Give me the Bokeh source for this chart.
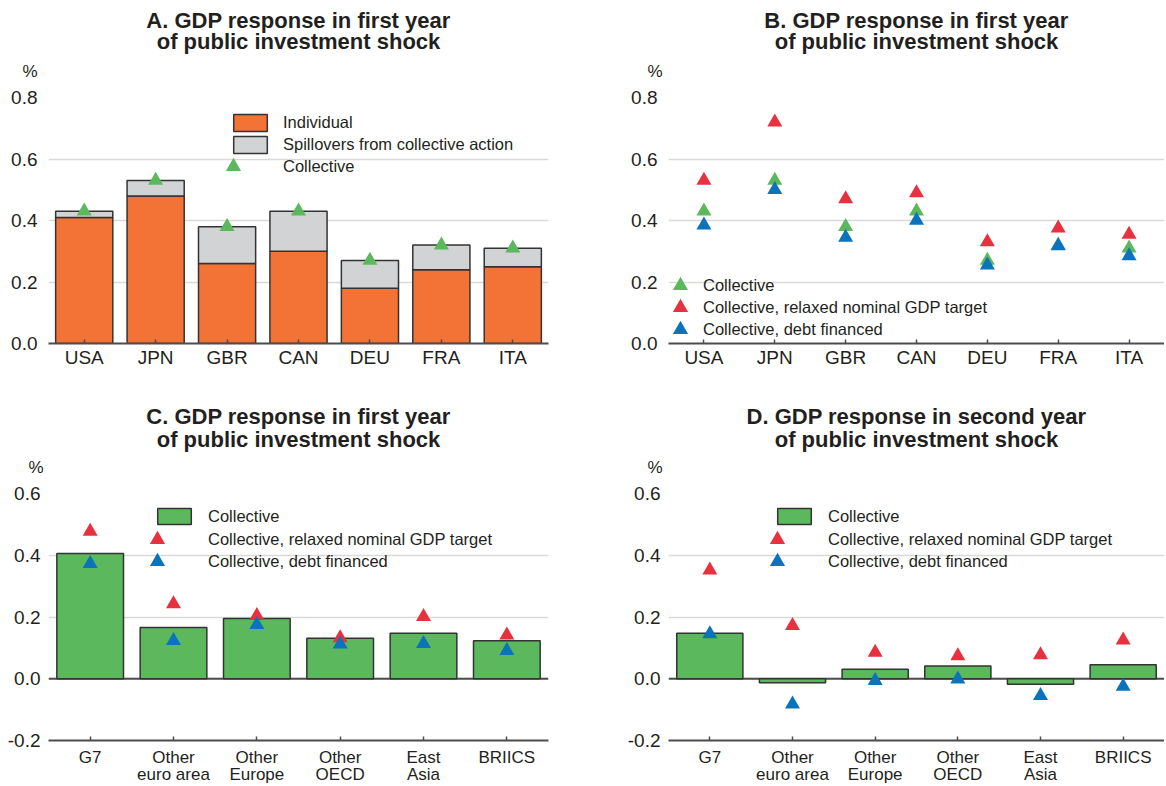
from bokeh.plotting import figure
from bokeh.models import (FactorRange, Range1d, FixedTicker, PrintfTickFormatter, Title,
                          Legend, LegendItem, Span, ColumnDataSource)
from bokeh.layouts import gridplot
from bokeh.embed import file_html
from bokeh.resources import INLINE

# ---------------- data ----------------
countries = ["USA", "JPN", "GBR", "CAN", "DEU", "FRA", "ITA"]
a_individual = [0.41, 0.48, 0.26, 0.30, 0.18, 0.24, 0.25]
a_spillovers = [0.02, 0.05, 0.12, 0.13, 0.09, 0.08, 0.06]
a_collective = [0.43, 0.53, 0.38, 0.43, 0.27, 0.32, 0.31]

b_collective = [0.43, 0.53, 0.38, 0.43, 0.27, 0.32, 0.31]
b_relaxed = [0.53, 0.72, 0.47, 0.49, 0.33, 0.375, 0.355]
b_debt = [0.385, 0.50, 0.345, 0.40, 0.255, 0.317, 0.285]

regions = ["G7", "Other\neuro area", "Other\nEurope", "Other\nOECD", "East\nAsia", "BRIICS"]
c_collective = [0.406, 0.166, 0.195, 0.131, 0.147, 0.123]
c_relaxed = [0.477, 0.242, 0.204, 0.132, 0.201, 0.141]
c_debt = [0.373, 0.123, 0.175, 0.112, 0.114, 0.091]

d_collective = [0.147, -0.013, 0.031, 0.041, -0.018, 0.045]
d_relaxed = [0.352, 0.172, 0.085, 0.074, 0.077, 0.125]
d_debt = [0.145, -0.082, -0.006, -0.001, -0.055, -0.025]

ticks_ab = [0.0, 0.2, 0.4, 0.6, 0.8]
ticks_cd = [-0.2, 0.0, 0.2, 0.4, 0.6]

titles = {
    "A": ("A. GDP response in first year", "of public investment shock"),
    "B": ("B. GDP response in first year", "of public investment shock"),
    "C": ("C. GDP response in first year", "of public investment shock"),
    "D": ("D. GDP response in second year", "of public investment shock"),
}
unit_label = "%"

# ---------------- style ----------------
FONT = "Liberation Sans"
TXT = "#231F20"
ORANGE = "#F37336"
GRAY = "#D1D3D4"
GREEN = "#5CB85C"
RED = "#E8313E"
BLUE = "#0B73BB"
EDGE = "#333333"
AXIS = "#4D4D4D"


def make_fig(fw, fh, left, right, bottom, factors, yr, ticks, title, pct_offset,
             standoffs, xlab_size):
    p = figure(frame_width=fw, frame_height=fh, x_range=FactorRange(factors=factors),
               y_range=Range1d(*yr), output_backend="svg", toolbar_location=None,
               title=None, min_border_left=left, min_border_right=right,
               min_border_top=60, min_border_bottom=bottom)
    p.outline_line_color = None
    p.background_fill_color = "white"
    p.border_fill_color = "white"
    p.xgrid.grid_line_color = None
    p.ygrid.ticker = FixedTicker(ticks=ticks)
    p.ygrid.grid_line_color = "#D9D9D9"
    p.ygrid.grid_line_width = 1.5
    p.yaxis.ticker = FixedTicker(ticks=ticks)
    p.yaxis.formatter = PrintfTickFormatter(format="%.1f")
    p.yaxis.axis_line_color = None
    p.yaxis.major_tick_line_color = None
    p.yaxis.minor_tick_line_color = None
    p.yaxis.major_tick_out = 0
    p.yaxis.major_tick_in = 0
    p.yaxis.minor_tick_out = 0
    p.yaxis.major_label_standoff = 11
    p.yaxis.major_label_text_font = FONT
    p.yaxis.major_label_text_font_size = "19px"
    p.yaxis.major_label_text_color = TXT
    p.xaxis.axis_line_color = AXIS
    p.xaxis.axis_line_width = 2
    p.xaxis.major_tick_line_color = AXIS
    p.xaxis.major_tick_line_width = 1.5
    p.xaxis.major_tick_in = 4
    p.xaxis.major_tick_out = 0
    p.xaxis.minor_tick_out = 0
    p.xaxis.minor_tick_line_color = None
    p.xaxis.major_label_text_font = FONT
    p.xaxis.major_label_text_font_size = xlab_size
    p.xaxis.major_label_text_color = TXT
    p.xaxis.major_label_text_line_height = 0.9
    p.xaxis.major_label_standoff = 3
    s_pct, s_l2, s_l1 = standoffs
    # stacked outward from the frame: unit label, title line 2, title line 1
    p.add_layout(Title(text=unit_label, align="left", offset=pct_offset, text_font=FONT,
                       text_font_size="17px", text_font_style="normal", text_color=TXT,
                       standoff=s_pct), "above")
    p.add_layout(Title(text=title[1], align="center", text_font=FONT, text_font_size="22px",
                       text_font_style="bold", text_color=TXT, standoff=s_l2), "above")
    p.add_layout(Title(text=title[0], align="center", text_font=FONT, text_font_size="22px",
                       text_font_style="bold", text_color=TXT, standoff=s_l1), "above")
    return p


def add_leg(p, label, r, vx, vy, gw, gh, standoff):
    lg = Legend(items=[LegendItem(label=label, renderers=[r])], location=(vx, vy),
                glyph_width=gw, glyph_height=gh, label_standoff=standoff,
                label_height=10, label_width=10, padding=0, margin=0, spacing=0,
                border_line_color=None, background_fill_alpha=0,
                label_text_font=FONT, label_text_font_size="16.5px", label_text_color=TXT)
    p.add_layout(lg, "center")


STAND_TOP = (33.5, -23.5, 10.5)
STAND_BOT = (32.5, -25.5, 16.5)

# ---------------- panel A ----------------
pA = make_fig(500, 246, 48, 35, 50, countries, (0, 0.8), ticks_ab, titles["A"], -26,
              STAND_TOP, "19px")
srcA = ColumnDataSource(dict(cat=countries, individual=a_individual, spill=a_spillovers,
                             coll=a_collective))
barsA = pA.vbar_stack(["individual", "spill"], x="cat", width=0.8, source=srcA,
                      fill_color=[ORANGE, GRAY], line_color=EDGE, line_width=1.5)
triA = pA.scatter(x="cat", y="coll", source=srcA, marker="triangle", size=15,
                  fill_color=GREEN, line_color=None)
add_leg(pA, "Individual", barsA[0], 181, 210, 42, 21, 12)
add_leg(pA, "Spillovers from collective action", barsA[1], 181, 188, 42, 21, 12)
add_leg(pA, "Collective", triA, 166, 158, 38, 38, 31)

# ---------------- panel B ----------------
pB = make_fig(496, 246, 85, 0, 50, countries, (0, 0.8), ticks_ab, titles["B"], -21,
              STAND_TOP, "19px")
srcB = ColumnDataSource(dict(cat=countries, coll=b_collective, relaxed=b_relaxed, debt=b_debt))
gB = pB.scatter(x="cat", y="coll", source=srcB, marker="triangle", size=15,
                fill_color=GREEN, line_color=None)
rB = pB.scatter(x="cat", y="relaxed", source=srcB, marker="triangle", size=15,
                fill_color=RED, line_color=None)
bB = pB.scatter(x="cat", y="debt", source=srcB, marker="triangle", size=15,
                fill_color=BLUE, line_color=None)
add_leg(pB, "Collective", gB, -7, 39, 38, 38, 4)
add_leg(pB, "Collective, relaxed nominal GDP target", rB, -7, 17, 38, 38, 4)
add_leg(pB, "Collective, debt financed", bB, -7, -5, 38, 38, 4)


# ---------------- panels C & D ----------------
def region_panel(title, fw, left, right, pct_offset, coll, relaxed, debt):
    p = make_fig(fw, 247, left, right, 44, regions, (-0.2, 0.6), ticks_cd, title,
                 pct_offset, STAND_BOT, "17px")
    p.yaxis.major_label_standoff = 8
    p.xaxis.major_label_standoff = 7
    zero = Span(location=0, dimension="width", line_color=AXIS, line_width=2, level="underlay")
    p.add_layout(zero)
    src = ColumnDataSource(dict(cat=regions, coll=coll, relaxed=relaxed, debt=debt))
    bars = p.vbar(x="cat", top="coll", bottom=0, width=0.8, source=src, fill_color=GREEN,
                  line_color=EDGE, line_width=1.5)
    r = p.scatter(x="cat", y="relaxed", source=src, marker="triangle", size=15,
                  fill_color=RED, line_color=None)
    b = p.scatter(x="cat", y="debt", source=src, marker="triangle", size=15,
                  fill_color=BLUE, line_color=None)
    add_leg(p, "Collective", bars, 105, 214, 42, 20, 13)
    add_leg(p, "Collective, relaxed nominal GDP target", r, 90, 182, 38, 38, 32)
    add_leg(p, "Collective, debt financed", b, 90, 160, 38, 38, 32)
    return p


pC = region_panel(titles["C"], 500, 48, 35, -20, c_collective, c_relaxed, c_debt)
pD = region_panel(titles["D"], 496, 85, 0, -21, d_collective, d_relaxed, d_debt)

layout = gridplot([[pA, pB], [pC, pD]], toolbar_location=None)
open("out.html", "w").write(file_html(layout, INLINE))
